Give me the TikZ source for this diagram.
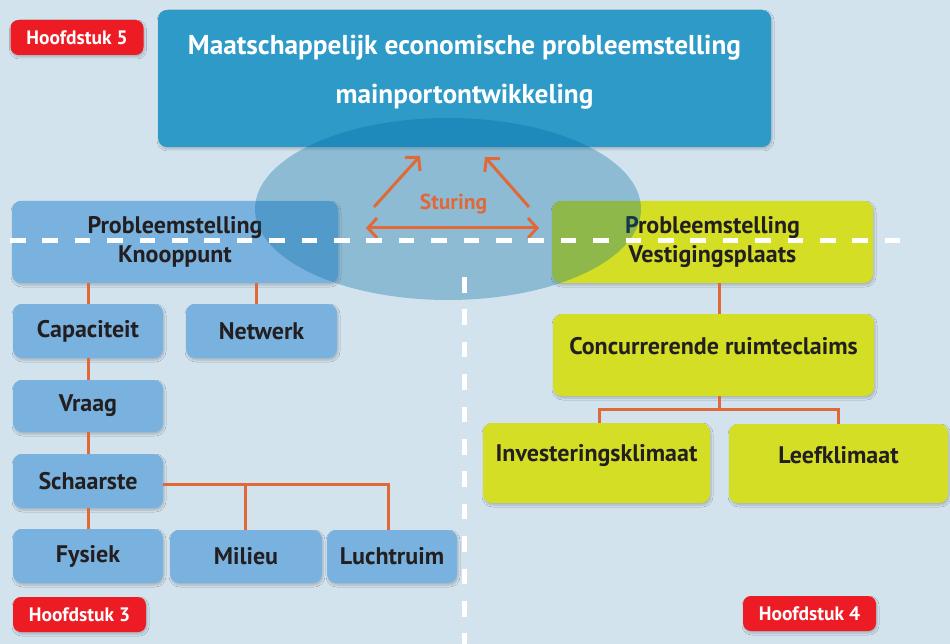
\documentclass[tikz,border=0pt]{standalone}
\usepackage{fontspec}
\setmainfont{PT Sans}
\usetikzlibrary{arrows.meta,shapes.geometric,shadows.blur}

\definecolor{bgblue}{HTML}{D2E3EE}
\definecolor{topblue}{HTML}{2D9AC8}
\definecolor{boxblue}{HTML}{7AB2DF}
\definecolor{boxgreen}{HTML}{D3DE24}
\definecolor{tagred}{HTML}{ED1C24}
\definecolor{linkorange}{HTML}{E0693A}
\definecolor{ink}{HTML}{231F20}
\definecolor{zoneblue}{RGB}{0,105,160}

\tikzset{
  boxfont/.style={font=\bfseries\fontsize{24}{29}\selectfont},
  box/.style={rounded corners=9pt, inner sep=0pt, text=ink, align=center, boxfont,
    blur shadow={shadow blur steps=6, shadow xshift=1pt, shadow yshift=-2pt, shadow opacity=22}},
  bluebox/.style={box, fill=boxblue},
  greenbox/.style={box, fill=boxgreen},
  headbox/.style={box, fill=topblue},
  tag/.style={rounded corners=8pt, inner sep=0pt, fill=tagred, text=white,
    font=\bfseries\fontsize{19.5}{22}\selectfont, minimum width=133pt, minimum height=35pt,
    blur shadow={shadow blur steps=6, shadow xshift=1pt, shadow yshift=-2pt, shadow opacity=22}},
  link/.style={draw=linkorange, line width=3pt},
  steer/.style={draw=linkorange, line width=3pt, -{Straight Barb[length=9pt,width=20pt]}},
  divider/.style={draw=white, line width=5pt, dash pattern=on 15.5pt off 16.9pt},
}

\begin{document}
\begin{tikzpicture}[x=1pt,y=-1pt]
  % background
  \fill[bgblue] (0,0) rectangle (950,644);
  \useasboundingbox (0,0) rectangle (950,644);

  % chapter tags
  \node[tag] (h5) at (77,37.5) {Hoofdstuk 5};
  \node[tag] (h3) at (79.5,614.5) {Hoofdstuk 3};
  \node[tag] (h4) at (809.5,613.5) {Hoofdstuk 4};

  % main problem statement
  \node[headbox, minimum width=613pt, minimum height=137pt,
    label={[yshift=6pt, text=white, align=center, font=\bfseries\fontsize{27.3}{49}\selectfont]center:Maatschappelijk economische probleemstelling\\mainportontwikkeling}]
    (main) at (464.5,78.5) {};

  % node problem (left branch)
  \node[bluebox, minimum width=326pt, minimum height=82pt] (knoop) at (175,242) {Probleemstelling\\Knooppunt};
  \node[bluebox, minimum width=150pt, minimum height=54pt] (cap) at (88,331) {Capaciteit};
  \node[bluebox, minimum width=151pt, minimum height=54pt] (netw) at (261.5,331) {Netwerk};
  \node[bluebox, minimum width=150pt, minimum height=52pt] (vraag) at (88,406) {Vraag};
  \node[bluebox, minimum width=150pt, minimum height=54pt] (schaar) at (88,481) {Schaarste};
  \node[bluebox, minimum width=150pt, minimum height=54pt] (fys) at (88,556) {Fysiek};
  \node[bluebox, minimum width=152pt, minimum height=53pt] (mil) at (246,556.5) {Milieu};
  \node[bluebox, minimum width=130pt, minimum height=53pt] (lucht) at (392,556.5) {Luchtruim};

  % location problem (right branch)
  \node[greenbox, minimum width=321pt, minimum height=82pt] (vest) at (712.5,242) {Probleemstelling\\Vestigingsplaats};
  \node[greenbox, minimum width=321pt, minimum height=82pt,
    label={[yshift=9pt, text=ink, boxfont]center:Concurrerende ruimteclaims}]
    (conc) at (713.5,355) {};
  \node[greenbox, minimum width=227pt, minimum height=80pt,
    label={[yshift=7pt, text=ink, boxfont]center:Investeringsklimaat}]
    (inv) at (596.5,463) {};
  \node[greenbox, minimum width=219pt, minimum height=79pt,
    label={[yshift=8.5pt, text=ink, boxfont]center:Leefklimaat}]
    (leef) at (838.5,463.5) {};

  % tree connectors
  \draw[link] (cap.north) -- (cap.north |- knoop.south);
  \draw[link] ([xshift=-5.5pt]netw.north) -- ([xshift=-5.5pt]netw.north |- knoop.south);
  \draw[link] (cap.south) -- (vraag.north);
  \draw[link] (vraag.south) -- (schaar.north);
  \draw[link] (schaar.south) -- (fys.north);
  \coordinate (sj) at (163,484);
  \draw[link] (sj) -| ([xshift=-4pt]lucht.north);
  \draw[link] ([xshift=-1pt]mil.north) -- ([xshift=-1pt]mil.north |- sj);

  \draw[link] ([xshift=6.5pt]vest.south) -- ([xshift=5.5pt]conc.north);
  \coordinate (cj) at (719,409);
  \draw[link] ([xshift=5.5pt]conc.south) -- (cj);
  \draw[link] ([xshift=2.5pt]inv.north) |- (cj) -| ([xshift=-0.5pt]leef.north);

  % steering zone
  \node[ellipse, fill=zoneblue, fill opacity=0.32, inner sep=0pt,
    minimum width=386pt, minimum height=182pt] (zone) at (448,209) {};

  \coordinate (sl0) at (374,207);
  \coordinate (sl1) at (420,156);
  \coordinate (sr0) at (529,207);
  \coordinate (sr1) at (485,157);
  \coordinate (hl) at (366,228);
  \coordinate (hr) at (539,228);
  \draw[steer] (sl0) -- (sl1);
  \draw[steer] (sr0) -- (sr1);
  \draw[steer, {Straight Barb[length=9pt,width=20pt]}-{Straight Barb[length=9pt,width=20pt]}] (hl) -- (hr);
  \node[text=linkorange, font=\bfseries\fontsize{21.6}{24}\selectfont] (sturing) at (453.5,204) {Sturing};

  % dividing lines
  \coordinate (d0) at (10,241);
  \coordinate (d1) at (902,241);
  \coordinate (v0) at (464,277);
  \coordinate (v1) at (464,650);
  \draw[divider] (d0) -- (d1);
  \draw[divider] (v0) -- (v1);
\end{tikzpicture}
\end{document}
